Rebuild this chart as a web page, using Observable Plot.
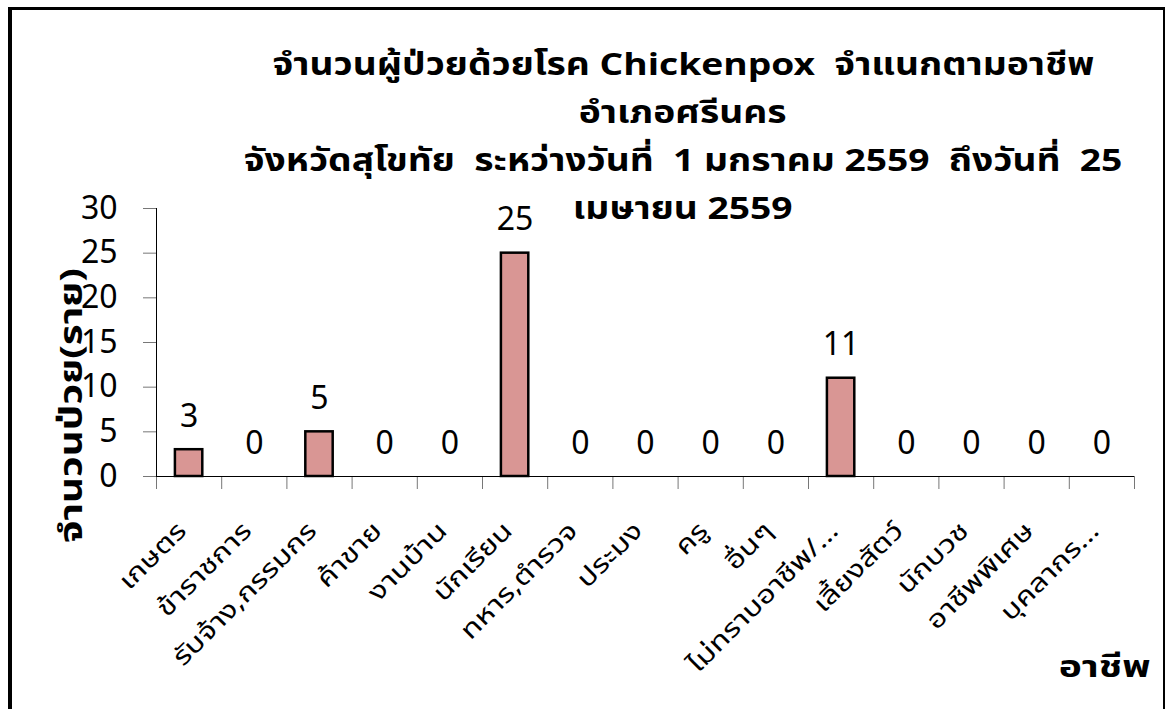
<!DOCTYPE html>
<html>
<head>
<meta charset="utf-8">
<script src="https://cdn.jsdelivr.net/npm/d3@7"></script>
<script src="https://cdn.jsdelivr.net/npm/@observablehq/plot@0.6"></script>
<style>
  html, body { margin: 0; padding: 0; background: #fff; }
  #wrap { position: relative; width: 1165px; height: 709px; overflow: hidden;
          font-family: Tahoma, "Noto Sans Thai", "Noto Sans", "DejaVu Sans", sans-serif; }
  #frame { position: absolute; left: 8px; top: 7px; width: 1151px; height: 720px;
           border-left: 4px solid #000; border-top: 3px solid #000; border-right: 2px solid #000; }
  #title { position: absolute; left: 183px; width: 1000px; top: 42px; text-align: center;
           font-weight: bold; font-size: 31px; line-height: 48px; color: #000; }
  #title span { display: inline-block; transform: scaleX(1.2); white-space: pre; }
  #chart { position: absolute; left: 0; top: 0; }
</style>
</head>
<body>
<div id="wrap">
  <div id="frame"></div>
  <div id="chart"></div>
  <div id="title"></div>
</div>
<script>
const titleLines = ["จำนวนผู้ป่วยด้วยโรค Chickenpox  จำแนกตามอาชีพ", "อำเภอศรีนคร", "จังหวัดสุโขทัย  ระหว่างวันที่  1 มกราคม 2559  ถึงวันที่  25", "เมษายน 2559"];
const categories = ["เกษตร", "ข้าราชการ", "รับจ้าง,กรรมกร", "ค้าขาย", "งานบ้าน", "นักเรียน", "ทหาร,ตำรวจ", "ประมง", "ครู", "อื่นๆ", "ไม่ทราบอาชีพ/…", "เลี้ยงสัตว์", "นักบวช", "อาชีพพิเศษ", "บุคลากร…"];
const values = [3, 0, 5, 0, 0, 25, 0, 0, 0, 0, 11, 0, 0, 0, 0];
const yTicks = [0, 5, 10, 15, 20, 25, 30];
const yLabel = "จำนวนป่วย(ราย)";
const xLabel = "อาชีพ";

const titleDiv = document.getElementById("title");
titleLines.forEach((t, i) => {
  const s = document.createElement("span");
  s.textContent = t;
  titleDiv.appendChild(s);
  if (i < titleLines.length - 1) titleDiv.appendChild(document.createElement("br"));
});

const data = categories.map((c, i) => ({cat: c, idx: i, value: values[i]}));
const barHalf = 0.21;
const font = 'Tahoma, "Noto Sans Thai", "Noto Sans", "DejaVu Sans", sans-serif';

const chart = Plot.plot({
  width: 1165,
  height: 709,
  marginLeft: 156,
  marginRight: 31,
  marginTop: 208,
  marginBottom: 233,
  style: {fontFamily: font, background: "transparent", color: "#000"},
  x: {type: "linear", domain: [0, categories.length], axis: null},
  y: {domain: [0, 30], axis: null},
  marks: [
    Plot.axisY({ticks: yTicks, tickSize: 13, tickPadding: 26, fontSize: 32, label: null, stroke: "#777"}),
    Plot.axisX({ticks: d3.range(categories.length + 1), tickSize: 13, tickFormat: () => "", label: null, stroke: "#777", anchor: "bottom"}),
    Plot.rectY(data, {x1: d => d.idx + 0.5 - barHalf, x2: d => d.idx + 0.5 + barHalf, y1: 0, y2: "value", fill: "#d99694", stroke: "#000", strokeWidth: 2.5}),
    Plot.ruleY([0], {stroke: "#000", strokeWidth: 1}),
    Plot.ruleX([0], {stroke: "#000", strokeWidth: 1}),
    Plot.text(data, {x: d => d.idx + 0.5, y: "value", text: d => String(d.value), dy: -33, fontSize: 32, lineAnchor: "middle", fill: "#000"}),
    Plot.text(data, {x: d => d.idx + 0.5, y: 0, text: "cat", rotate: -45, textAnchor: "end", lineAnchor: "middle", dx: -7, dy: 50, fontSize: 25, fill: "#000", className: "xlab"}),
    Plot.text([yLabel], {frameAnchor: "left", text: d => d, rotate: -90, textAnchor: "middle", lineAnchor: "middle", dx: -84, dy: 63, fontSize: 31, fontWeight: "bold", fill: "#000", className: "ylab"}),
    Plot.text([xLabel], {frameAnchor: "bottom-right", text: d => d, textAnchor: "end", dx: 16, dy: 200, fontSize: 30, fontWeight: "bold", fill: "#000", className: "xtitle"})
  ]
});
document.getElementById("chart").appendChild(chart);

// widen the Thai glyph runs to match the wide reference face
function stretch(sel, factor) {
  d3.select(chart).selectAll(sel).each(function () {
    const len = this.getComputedTextLength();
    this.setAttribute("textLength", len * factor);
    this.setAttribute("lengthAdjust", "spacingAndGlyphs");
  });
}
stretch(".xlab text", 1.25);
stretch(".ylab text", 1.3);
stretch(".xtitle text", 1.3);
</script>
</body>
</html>
